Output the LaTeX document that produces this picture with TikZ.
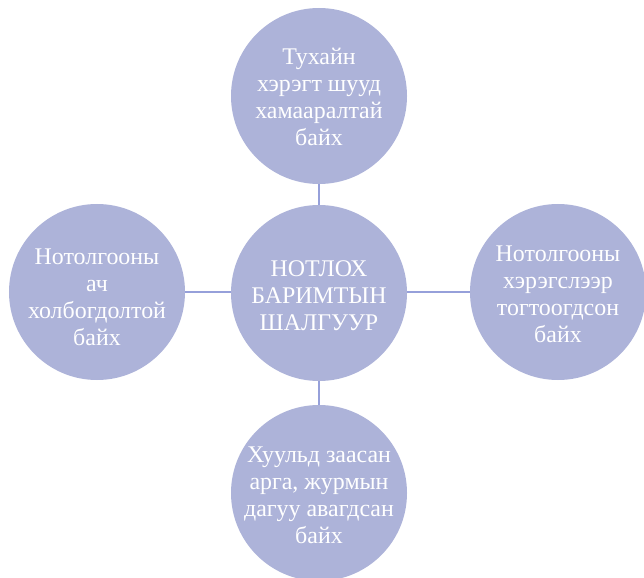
\documentclass[tikz,border=0pt]{standalone}
\usepackage{fontspec}
\setmainfont{Liberation Serif}
\definecolor{bubblefill}{RGB}{173,179,217}
\definecolor{linkcol}{RGB}{150,160,218}
\tikzset{
  bubble/.style={circle, fill=bubblefill, draw=none, minimum size=176bp, inner sep=0pt},
  txt/.style={text=white, align=center, font=\fontsize{24}{27}\selectfont, inner sep=0pt},
  link/.style={draw=linkcol, line width=1.3bp}
}
\begin{document}
\begin{tikzpicture}[x=1bp,y=-1bp]
\useasboundingbox (0,0) rectangle (644,578);
\node[bubble] (t) at (319,96) {};
\node[bubble] (c) at (319,293) {};
\node[bubble] (l) at (97,292) {};
\node[bubble] (r) at (558,292) {};
\node[bubble] (b) at (319,493) {};
\draw[link] (t.south) -- (c.north);
\draw[link] (c.south) -- (b.north);
\draw[link] (l.east) -- (l.east -| c.west);
\draw[link] (r.west) -- (r.west -| c.east);
\node[txt] (tt) at (319,97) {Тухайн\\хэрэгт шууд\\хамааралтай\\байх};
\node[txt] (ct) at (319,296) {НОТЛОХ\\БАРИМТЫН\\ШАЛГУУР};
\node[txt] (lt) at (97,297) {Нотолгооны\\ач\\холбогдолтой\\байх};
\node[txt] (rt) at (558,294) {Нотолгооны\\хэрэгслээр\\тогтоогдсон\\байх};
\node[txt] (bt) at (319,495) {Хуульд заасан\\арга, журмын\\дагуу авагдсан\\байх};
\end{tikzpicture}
\end{document}
